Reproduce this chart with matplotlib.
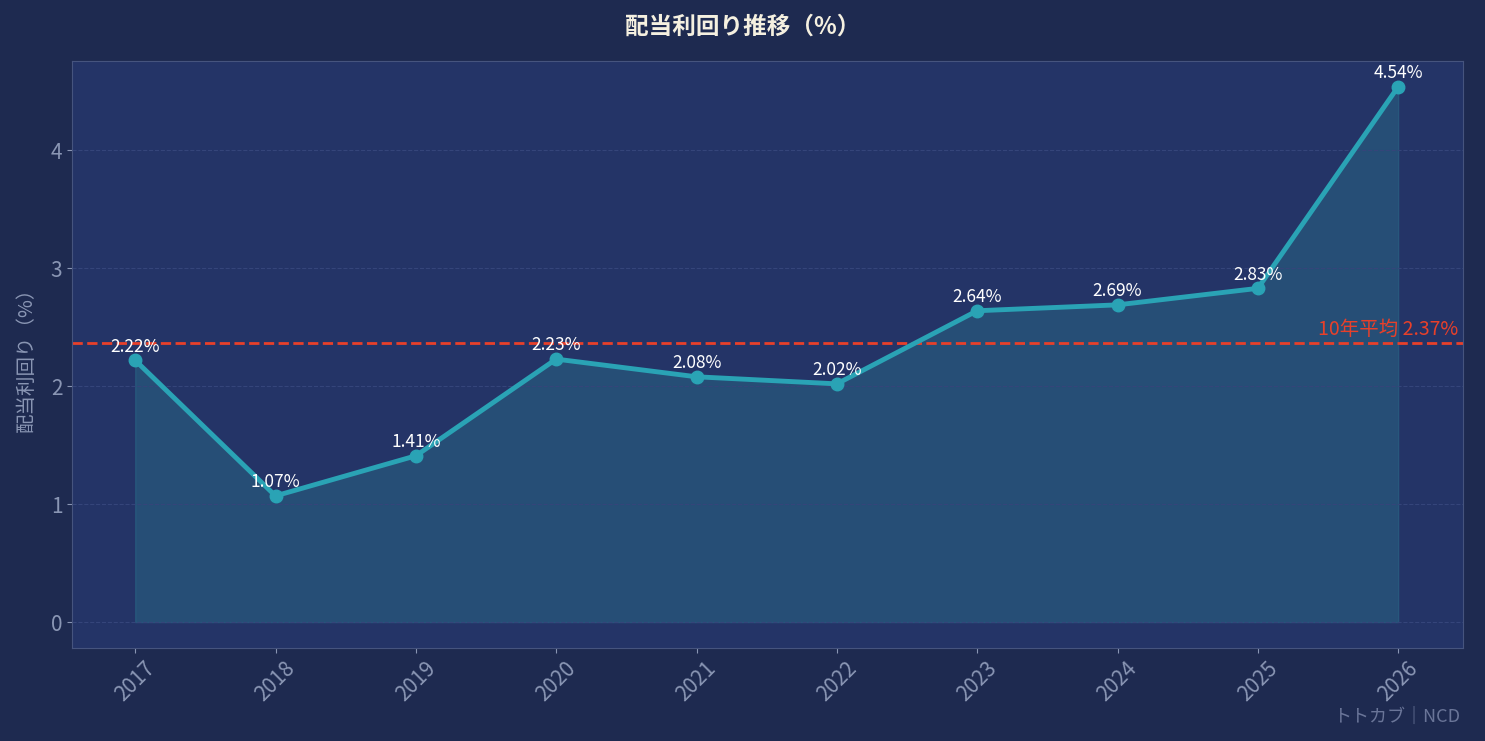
import matplotlib
matplotlib.use("Agg")
import matplotlib.pyplot as plt

years = ["2017","2018","2019","2020","2021","2022","2023","2024","2025","2026"]
yields = [2.22,1.07,1.41,2.23,2.08,2.02,2.64,2.69,2.83,4.54]
avg = 2.37

plt.rcParams['font.family'] = ['Noto Sans CJK JP', 'DejaVu Sans']
fig = plt.figure(figsize=(14.85,7.41), dpi=100, facecolor='#1e2a50')
ax = fig.add_axes([0.0485,0.1255,0.9365,0.7925], facecolor='#243467')
x = list(range(len(years)))
ax.fill_between(x, yields, 0, color='#2a6e8a', alpha=0.45, zorder=1)
ax.plot(x, yields, color='#2aa3b5', lw=3.5, marker='o', ms=9, zorder=3)
ax.axhline(avg, color='#e8402a', ls='--', lw=2, zorder=2)
ax.text(9.43, avg+0.02, f"10年平均 {avg:.2f}%", color='#e8402a', fontsize=14, ha='right', va='bottom')
for xi, v in zip(x, yields):
    ax.text(xi, v+0.04, f"{v:.2f}%", color='white', fontsize=12.5, ha='center', va='bottom', zorder=4)
ax.set_xlim(-0.45, 9.46)
ax.set_ylim(-0.22, 4.76)
ax.set_xticks(x)
ax.set_xticklabels(years, rotation=45, color='#8a96b4', fontsize=15)
ax.set_yticks([0,1,2,3,4])
ax.tick_params(axis='y', colors='#8a96b4', labelsize=15)
ax.tick_params(axis='x', colors='#8a96b4')
ax.grid(axis='y', color='#35457a', ls='--', lw=0.8)
for s in ax.spines.values():
    s.set_color('#46547e')
ax.set_ylabel("配当利回り（%）", color='#8a96b4', fontsize=14, labelpad=10)
fig.suptitle("配当利回り推移（%）", color='#f5f0e0', fontsize=17, fontweight='bold', y=0.98)
fig.text(0.983, 0.02, "トトカブ｜NCD", color='#6a7598', fontsize=13, ha='right', va='bottom')
fig.savefig("out.png", dpi=100, facecolor=fig.get_facecolor())
